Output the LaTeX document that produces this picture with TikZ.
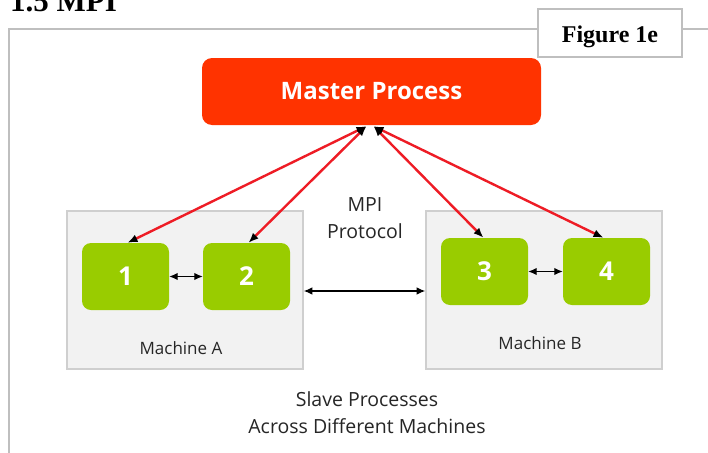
\documentclass[tikz,border=0pt]{standalone}
\usepackage{fontspec}
\usetikzlibrary{arrows.meta}
\newfontfamily\osans{Open Sans}
\newfontfamily\tnr{Liberation Serif}
\definecolor{masterred}{HTML}{FF3300}
\definecolor{linkred}{HTML}{EE1C25}
\definecolor{slavegreen}{HTML}{99CC00}
\definecolor{boxfill}{HTML}{F2F2F2}
\definecolor{boxline}{HTML}{CFCFCF}
\definecolor{framegray}{HTML}{BFBFBF}
\tikzset{
  machine/.style={draw=boxline, line width=1.6pt, fill=boxfill, minimum width=236pt, minimum height=158pt, inner sep=0pt},
  slave/.style={fill=slavegreen, rounded corners=9pt, minimum width=87pt, minimum height=67pt, inner sep=0pt,
    text=white, font=\osans\bfseries\fontsize{26}{30}\selectfont},
  master/.style={fill=masterred, rounded corners=10pt, minimum width=339pt, minimum height=67pt, inner sep=0pt,
    text=white, font=\osans\bfseries\fontsize{24}{28}\selectfont},
  label/.style={font=\osans\fontsize{19.5}{27}\selectfont, text=black!85, align=center, inner sep=0pt},
  smalllabel/.style={font=\osans\fontsize{17}{20}\selectfont, text=black!85, inner sep=0pt},
  link/.style={draw=linkred, line width=2.4pt, {Latex[black,length=10pt,width=8pt]}-{Latex[black,length=10pt,width=8pt]}},
  peer/.style={draw=black, line width=1.2pt, {Latex[length=8.5pt,width=7.5pt]}-{Latex[length=8.5pt,width=7.5pt]}}
}
\begin{document}
\begin{tikzpicture}[x=1pt,y=-1pt]
\useasboundingbox (0,0) rectangle (708,452);
\clip (0,0) rectangle (708,452);
\fill[white] (0,0) rectangle (708,452);
% heading and page frame
\node[anchor=base west, inner sep=0pt, font=\tnr\bfseries\fontsize{31}{34}\selectfont] (heading) at (10,12) {1.5 MPI};
\draw[framegray, line width=1.2pt] (9,470) -- (9,29) -- (730,29);
\node[draw=framegray, line width=1.2pt, fill=white, minimum width=144pt, minimum height=48pt, inner sep=0pt] (fig) at (610,33) {};
\node[anchor=base, inner sep=0pt, font=\tnr\bfseries\fontsize{24}{26}\selectfont] (figtext) at (610,43) {Figure 1e};
% machines
\node[machine] (machA) at (185,290) {};
\node[machine] (machB) at (544,290) {};
\node[smalllabel] (labA) at (181,348) {Machine A};
\node[smalllabel] (labB) at (540,343) {Machine B};
% processes
\node[master] (master) at (371.5,91.5) {Master Process};
\node[slave] (n1) at (125.5,276.5) {1};
\node[slave] (n2) at (246.5,276.5) {2};
\node[slave] (n3) at (484.5,271.5) {3};
\node[slave] (n4) at (606.5,271.5) {4};
% texts
\node[label] (mpi) at (365,218) {MPI\\Protocol};
\node[label] (slaves) at (367,413) {Slave Processes\\Across Different Machines};
% connectors
\coordinate (mL) at ([xshift=-5pt,yshift=-1pt]master.south);
\coordinate (mR) at ([xshift=2pt,yshift=-1pt]master.south);
\draw[link] (mL) -- ([xshift=2pt]n1.north);
\draw[link] (mL) -- ([xshift=2pt]n2.north);
\draw[link] (mR) -- ([xshift=-1pt]n3.north);
\draw[link] (mR) -- ([xshift=-3pt]n4.north);
\draw[peer] (n1.east) -- (n2.west);
\draw[peer] (n3.east) -- (n4.west);
\draw[peer] ([yshift=-1pt]machA.east) -- ([yshift=-1pt]machB.west);
\end{tikzpicture}
\end{document}
